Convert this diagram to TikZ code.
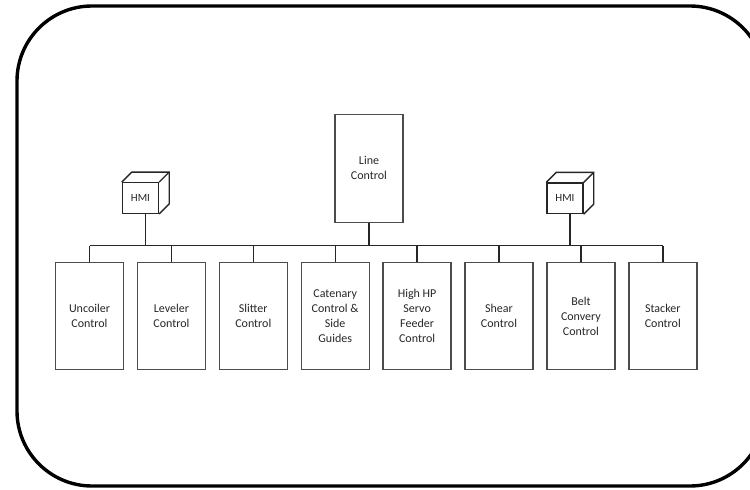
\documentclass[tikz,border=0pt]{standalone}
\usepackage{fontspec}
\setmainfont{Carlito}
\usetikzlibrary{positioning}
\usetikzlibrary{calc}

\begin{document}
\begin{tikzpicture}[x=1pt, y=-1pt,
    ctrl/.style={draw=black!70, line width=1.4pt, minimum width=68pt, minimum height=106.5pt, inner sep=1pt, align=center, font=\fontsize{12}{15}\selectfont, text=black!85},
    hmi/.style={draw=black!85, line width=1.4pt, minimum width=36pt, minimum height=30.5pt, inner sep=0pt, font=\fontsize{11}{12}\selectfont, text=black!85},
    wire/.style={black!85, line width=1.4pt}]
    \useasboundingbox (0,0) rectangle (750,490);
    \clip (0,0) rectangle (750,490);
    \draw [line width=3.4pt, rounded corners=75pt] (17,6) rectangle (765,486);
    %\coordinate (busL) at (0,245.5);
    \coordinate (busL) at (0,245.5);
    \node [ctrl] (uncoiler) at (89.5,316) {Uncoiler\\Control};
    \node [ctrl, right=12.5pt of uncoiler] (leveler) {Leveler\\Control};
    \node [ctrl, right=12.5pt of leveler] (slitter) {Slitter\\Control};
    \node [ctrl, right=12.5pt of slitter] (catenary) {Catenary\\Control \&\\Side\\Guides};
    \node [ctrl, right=12.5pt of catenary] (feeder) {High HP\\Servo\\Feeder\\Control};
    \node [ctrl, right=12.5pt of feeder] (shear) {Shear\\Control};
    \node [ctrl, right=12.5pt of shear] (belt) {Belt\\Convery\\Control};
    \node [ctrl, right=12.5pt of belt] (stacker) {Stacker\\Control};
    \node [ctrl, minimum height=108pt] (line) at (369,168.3) {Line\\Control};
    \node [hmi] (hmiL) at (140.5,198) {HMI};
    \node [hmi] (hmiR) at (565,198.3) {HMI};
    % cube faces
    \draw [wire] (hmiL.north west) -- ++(10,-10) -| ($(hmiL.south east)+(10,-10)$) -- (hmiL.south east);
    \draw [wire] (hmiL.north east) -- ++(10,-10);
    \draw [wire] (hmiR.north west) -- ++(10,-10) -| ($(hmiR.south east)+(10,-10)$) -- (hmiR.south east);
    \draw [wire] (hmiR.north east) -- ++(10,-10);
    % bus
    \draw [wire] (uncoiler.north |- busL) -- (stacker.north |- busL);
    \draw [wire] (line.south) -- (line.south |- busL);
    \draw [wire] ($(hmiL.south)+(5,0)$) -- ($(hmiL.south |- busL)+(5,0)$);
    \draw [wire] ($(hmiR.south)+(5,0)$) -- ($(hmiR.south |- busL)+(5,0)$);
    \draw [wire] (uncoiler.north) -- (uncoiler.north |- busL);
    \draw [wire] (leveler.north) -- (leveler.north |- busL);
    \draw [wire] (slitter.north) -- (slitter.north |- busL);
    \draw [wire] (catenary.north) -- (catenary.north |- busL);
    \draw [wire] (feeder.north) -- (feeder.north |- busL);
    \draw [wire] (shear.north) -- (shear.north |- busL);
    \draw [wire] (belt.north) -- (belt.north |- busL);
    \draw [wire] (stacker.north) -- (stacker.north |- busL);
\end{tikzpicture}
\end{document}
